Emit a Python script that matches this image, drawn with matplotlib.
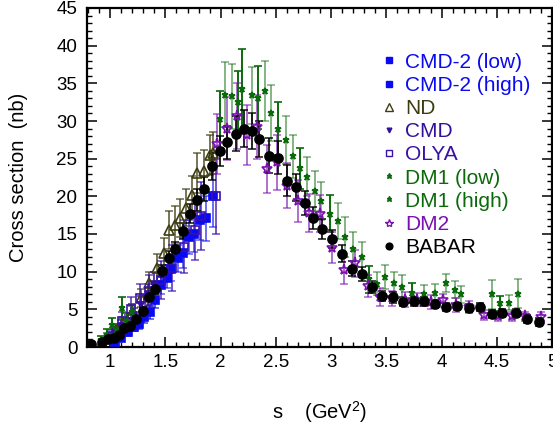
import matplotlib
matplotlib.use('Agg')
import matplotlib.pyplot as plt
from matplotlib.lines import Line2D
from matplotlib.ticker import MultipleLocator

plt.rcParams['font.family'] = ['Liberation Sans', 'DejaVu Sans']
plt.rcParams['mathtext.fontset'] = 'custom'
plt.rcParams['mathtext.rm'] = 'Liberation Sans'

### data (s in GeV^2, cross section in nb)

cmd2_low_s = [1.04, 1.10, 1.16, 1.22, 1.26, 1.31, 1.36, 1.41]
cmd2_low_y = [0.6, 1.2, 2.0, 2.7, 3.1, 4.0, 4.6, 6.2]
cmd2_low_e = [0.3, 0.4, 0.5, 0.6, 0.7, 0.8, 0.9, 1.0]

cmd2_high_s = [1.46, 1.51, 1.555, 1.61, 1.655, 1.71, 1.76, 1.81, 1.865, 1.935]
cmd2_high_y = [8.2, 9.2, 10.4, 11.8, 12.5, 14.6, 15.0, 16.9, 17.1, 20.1]
cmd2_high_e = [1.2, 1.4, 1.6, 1.8, 2.0, 2.2, 2.4, 2.7, 3.0, 4.2]

nd_s = [0.97, 1.05, 1.12, 1.2, 1.28, 1.35, 1.42, 1.49, 1.535, 1.59, 1.63, 1.69,
        1.745, 1.79, 1.845, 1.905, 1.935]
nd_y = [1.3, 2.2, 3.2, 4.5, 6.5, 8.5, 10.5, 12.5, 15.5, 16.2, 17.1, 18.5,
        20.2, 23.1, 23.4, 25.5, 25.8]
nd_e = [0.5, 0.6, 0.8, 1.0, 1.2, 1.5, 1.8, 2.0, 2.5, 2.5, 2.5, 2.5,
        2.5, 2.7, 2.7, 2.7, 2.8]

cmd_s = [0.98, 1.04, 1.10, 1.16, 1.22, 1.28, 1.34, 1.40]
cmd_y = [1.2, 2.0, 2.8, 3.4, 4.2, 5.6, 7.0, 8.3]
cmd_e = [0.5, 0.6, 0.8, 0.9, 1.0, 1.2, 1.4, 1.6]

olya_s = [1.02, 1.11, 1.19, 1.27, 1.35, 1.46, 1.56, 1.67, 1.77, 1.82, 1.96]
olya_y = [1.5, 3.5, 5.1, 6.5, 7.5, 8.9, 10.5, 13.3, 15.5, 17.4, 20.0]
olya_e = [0.8, 1.2, 1.5, 1.8, 2.0, 2.5, 3.0, 3.5, 4.0, 4.5, 5.0]

dm1_low_s = [0.92, 0.97, 1.02, 1.06, 1.11, 1.15, 1.20, 1.99, 2.16, 2.19, 2.34,
             2.52, 2.72, 2.99, 3.34, 3.73, 4.53]
dm1_low_y = [0.9, 1.6, 2.9, 2.2, 5.2, 3.5, 4.7, 30.2, 32.5, 34.3, 33.1,
             29.0, 23.7, 17.7, 9.0, 7.2, 5.8]
dm1_low_e = [0.6, 0.8, 1.0, 0.9, 1.5, 1.0, 1.0, 3.8, 4.1, 5.3, 4.2,
             3.5, 2.7, 2.5, 1.8, 1.3, 1.0]

dm1_high_s = [2.04, 2.10, 2.28, 2.40, 2.46, 2.59, 2.655, 2.78, 2.85, 2.91,
              3.06, 3.13, 3.20, 3.28, 3.42, 3.49, 3.57, 3.64, 3.84, 3.94,
              4.04, 4.12, 4.18, 4.46, 4.61, 4.69]
dm1_high_y = [33.5, 33.3, 33.4, 34.0, 31.1, 27.5, 25.3, 22.6, 20.7, 19.4,
              16.7, 14.6, 13.0, 11.9, 8.4, 9.3, 8.5, 8.0, 7.0, 7.2,
              8.5, 7.6, 7.0, 7.0, 5.9, 7.1]
dm1_high_e = [4.3, 4.3, 3.8, 4.0, 3.7, 3.2, 2.9, 2.6, 2.6, 2.5,
              2.4, 2.7, 2.3, 2.0, 1.5, 1.6, 1.5, 1.5, 1.2, 1.2,
              1.2, 1.1, 1.1, 1.9, 1.0, 1.9]

dm2_s = [1.965, 2.055, 2.15, 2.24, 2.33, 2.42, 2.51, 2.60, 2.70, 2.80,
         2.90, 3.01, 3.12, 3.22, 3.33, 3.44, 3.55, 3.67, 3.78, 3.90,
         4.01, 4.13, 4.25, 4.38, 4.51, 4.64, 4.76, 4.90]
dm2_y = [26.9, 29.0, 30.7, 28.1, 29.2, 23.6, 24.5, 21.4, 19.4, 17.8,
         17.7, 13.2, 10.2, 11.1, 8.1, 6.6, 6.5, 6.3, 6.3, 6.0,
         6.2, 5.6, 5.35, 4.25, 4.1, 4.1, 4.1, 4.0]
dm2_e = [4.0, 4.2, 4.4, 4.0, 4.2, 3.2, 3.6, 3.0, 2.8, 2.5,
         2.5, 2.0, 1.8, 1.8, 1.4, 1.2, 1.0, 1.0, 0.9, 0.9,
         0.9, 0.9, 0.8, 0.7, 0.6, 0.6, 0.6, 0.6]

babar_s = [0.83, 0.93, 0.98, 1.03, 1.08, 1.125, 1.18, 1.23, 1.30, 1.35,
           1.405, 1.47, 1.53, 1.59, 1.66, 1.72, 1.79, 1.85, 1.92, 1.99,
           2.06, 2.14, 2.21, 2.28, 2.35, 2.44, 2.52, 2.60, 2.68, 2.76,
           2.84, 2.92, 3.01, 3.10, 3.19, 3.28, 3.37, 3.46, 3.56, 3.65,
           3.75, 3.84, 3.94, 4.04, 4.14, 4.25, 4.35, 4.46, 4.55, 4.67,
           4.77, 4.88]
babar_y = [0.4, 0.7, 1.0, 1.2, 1.6, 2.5, 2.8, 3.7, 4.8, 6.7,
           7.7, 10.1, 11.8, 13.0, 15.4, 17.7, 19.5, 21.0, 24.0, 26.0,
           27.2, 28.3, 29.0, 28.7, 27.6, 25.4, 25.1, 22.1, 21.2, 19.1,
           17.1, 15.7, 14.3, 12.4, 10.4, 9.7, 8.0, 6.8, 6.6, 6.0,
           6.1, 6.1, 5.7, 5.3, 5.4, 5.2, 5.3, 4.4, 4.5, 4.5,
           3.7, 3.3]
babar_e = [0.2, 0.2, 0.2, 0.3, 0.3, 0.3, 0.4, 0.4, 0.5, 0.6,
           0.7, 0.8, 0.9, 1.0, 1.1, 1.3, 1.5, 1.6, 1.8, 2.0,
           2.2, 2.3, 2.5, 2.4, 2.4, 2.3, 2.2, 2.0, 1.8, 1.6,
           1.5, 1.3, 1.2, 1.1, 1.0, 0.9, 0.8, 0.7, 0.7, 0.6,
           0.6, 0.6, 0.5, 0.5, 0.5, 0.5, 0.5, 0.5, 0.5, 0.5,
           0.5, 0.5]

### style per series: label, data, marker, colour, open?, size, errbar alpha
series = [
    ('CMD-2 (low)', cmd2_low_s, cmd2_low_y, cmd2_low_e, 's', '#0a0af0', False, 5.5, 0.7),
    ('CMD-2 (high)', cmd2_high_s, cmd2_high_y, cmd2_high_e, 's', '#0a0af0', False, 5.5, 0.6),
    ('ND', nd_s, nd_y, nd_e, '^', '#3d3d10', True, 7, 0.7),
    ('CMD', cmd_s, cmd_y, cmd_e, 'v', '#33109a', False, 4.5, 0.8),
    ('OLYA', olya_s, olya_y, olya_e, 's', '#3a10aa', True, 6, 0.7),
    ('DM1 (low)', dm1_low_s, dm1_low_y, dm1_low_e, '*', '#0a6a0a', False, 5, 1.0),
    ('DM1 (high)', dm1_high_s, dm1_high_y, dm1_high_e, '*', '#0a6a0a', False, 5, 0.5),
    ('DM2', dm2_s, dm2_y, dm2_e, '*', '#7a10b0', True, 8, 0.6),
    ('BABAR', babar_s, babar_y, babar_e, 'o', 'black', False, 6.5, 0.85),
]

fig = plt.figure(figsize=(5.53, 4.26), dpi=100)
ax = fig.add_axes([87 / 553, 79 / 426, 465 / 553, 339 / 426])

handles = []
for lab, xs, ys, es, mk, col, hollow, ms, ea in series:
    mfc = 'none' if hollow else col
    eb = ax.errorbar(xs, ys, yerr=es, fmt=mk, color=col, mfc=mfc, mec=col,
                     ms=ms, mew=1.2, ecolor=col, elinewidth=1.4, capsize=3,
                     capthick=1.4, zorder=3)
    for ln in eb[1]:
        ln.set_alpha(ea)
    for ln in eb[2]:
        ln.set_alpha(ea)
    handles.append(Line2D([], [], ls='none', marker=mk, color=col, mfc=mfc,
                          mec=col, ms=ms * 0.75, mew=1.0, label=lab))

ax.set_xlim(0.79, 5.0)
ax.set_ylim(0, 45)
ax.xaxis.set_major_locator(MultipleLocator(0.5))
ax.xaxis.set_minor_locator(MultipleLocator(0.1))
ax.yaxis.set_major_locator(MultipleLocator(5))
ax.yaxis.set_minor_locator(MultipleLocator(1))
ax.set_xticks([1, 1.5, 2, 2.5, 3, 3.5, 4, 4.5, 5])
ax.set_xticklabels(['1', '1.5', '2', '2.5', '3', '3.5', '4', '4.5', '5'])
ax.tick_params(which='both', direction='in', top=True, right=True, labelsize=13.5)
ax.tick_params(which='major', length=7, width=1.1)
ax.tick_params(which='minor', length=3.5, width=1.0)
ax.tick_params(axis='x', pad=5)
ax.tick_params(axis='y', pad=7)
for sp in ax.spines.values():
    sp.set_linewidth(1.6)

ax.set_xlabel('s    (GeV$^2$)', fontsize=14.5, labelpad=20)
ax.set_ylabel('Cross section  (nb)', fontsize=14.5, labelpad=20)

leg = ax.legend(handles=handles, loc='upper left', bbox_to_anchor=(0.632, 0.868),
                frameon=False, fontsize=15, handlelength=0.8, handletextpad=0.35,
                labelspacing=0.2, borderpad=0, borderaxespad=0)
for txt, h in zip(leg.get_texts(), handles):
    txt.set_color(h.get_color())

fig.savefig('out.png', dpi=100)
